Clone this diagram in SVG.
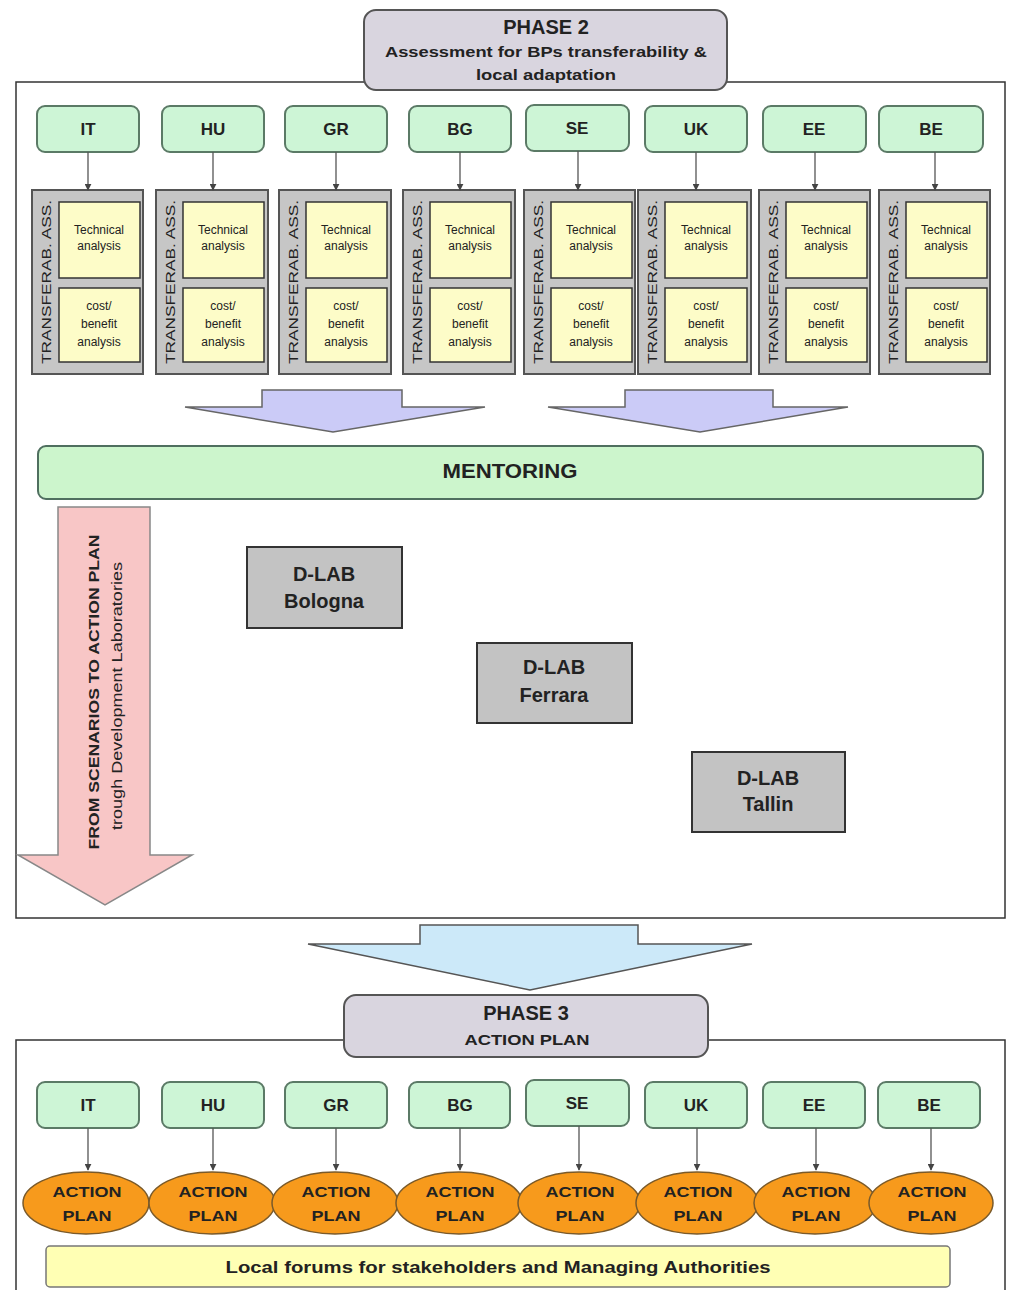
<svg xmlns="http://www.w3.org/2000/svg" width="1011" height="1290" viewBox="0 0 1011 1290">
<defs>
<marker id="ah" viewBox="0 0 10 10" refX="9" refY="5" markerWidth="7" markerHeight="7" orient="auto" markerUnits="userSpaceOnUse"><path d="M0,0 L10,5 L0,10 z" fill="#444"/></marker>
<style>
text{font-family:"Liberation Sans",Arial,sans-serif;fill:#222;text-anchor:middle}
.frame{fill:#fff;stroke:#333;stroke-width:1.5}
.phase{fill:#d9d5df;stroke:#555;stroke-width:2}
.cty{fill:#cdf5d6;stroke:#5b7a66;stroke-width:2}
.ctyt{font-size:17px;font-weight:bold}
.tr{fill:#c6c6c6;stroke:#555;stroke-width:2}
.yl{fill:#fdfcc8;stroke:#333;stroke-width:1.5}
.sm{font-size:12px}
.vt{font-size:13.5px}
.dlab{fill:#c3c3c3;stroke:#333;stroke-width:2}
.dlt{font-size:20px;font-weight:bold}
.ell{fill:#f79a1c;stroke:#7a5a2a;stroke-width:1.5}
.ap{font-size:15px;font-weight:bold}
.con{stroke:#555;stroke-width:1.3;fill:none;marker-end:url(#ah)}
</style>
</defs>

<rect class="frame" x="16" y="82" width="989" height="836"/>
<rect class="frame" x="16" y="1040" width="989" height="260"/>

<g id="phase2">
<rect class="phase" x="364" y="10" width="363" height="80" rx="12"/>
<text x="546" y="34" font-size="20" font-weight="bold">PHASE 2</text>
<text x="546" y="57" font-size="15" font-weight="bold" textLength="322" lengthAdjust="spacingAndGlyphs">Assessment for BPs transferability &amp;</text>
<text x="546" y="80" font-size="15" font-weight="bold" textLength="140" lengthAdjust="spacingAndGlyphs">local adaptation</text>
</g>

<g id="countries-top">
<g id="top-IT"><rect class="cty" x="37" y="106" width="102" height="46" rx="8"/><text class="ctyt" x="88" y="135">IT</text></g>
<g id="top-HU"><rect class="cty" x="162" y="106" width="102" height="46" rx="8"/><text class="ctyt" x="213" y="135">HU</text></g>
<g id="top-GR"><rect class="cty" x="285" y="106" width="102" height="46" rx="8"/><text class="ctyt" x="336" y="135">GR</text></g>
<g id="top-BG"><rect class="cty" x="409" y="106" width="102" height="46" rx="8"/><text class="ctyt" x="460" y="135">BG</text></g>
<g id="top-SE"><rect class="cty" x="526" y="105" width="103" height="46" rx="8"/><text class="ctyt" x="577" y="134">SE</text></g>
<g id="top-UK"><rect class="cty" x="645" y="106" width="102" height="46" rx="8"/><text class="ctyt" x="696" y="135">UK</text></g>
<g id="top-EE"><rect class="cty" x="763" y="106" width="103" height="46" rx="8"/><text class="ctyt" x="814" y="135">EE</text></g>
<g id="top-BE"><rect class="cty" x="879" y="106" width="104" height="46" rx="8"/><text class="ctyt" x="931" y="135">BE</text></g>
</g>

<g id="transfer">
<g id="tr-IT" transform="translate(32,190)">
<rect class="tr" width="111" height="184"/><rect class="yl" x="27" y="12" width="81" height="76"/><rect class="yl" x="27" y="98" width="81" height="74"/>
<text class="vt" transform="translate(19,92) rotate(-90)" textLength="164" lengthAdjust="spacingAndGlyphs">TRANSFERAB. ASS.</text>
<text class="sm" x="67" y="44">Technical</text><text class="sm" x="67" y="60">analysis</text>
<text class="sm" x="67" y="120">cost/</text><text class="sm" x="67" y="138">benefit</text><text class="sm" x="67" y="156">analysis</text>
</g>
<g id="tr-HU" transform="translate(156,190)">
<rect class="tr" width="112" height="184"/><rect class="yl" x="27" y="12" width="81" height="76"/><rect class="yl" x="27" y="98" width="81" height="74"/>
<text class="vt" transform="translate(19,92) rotate(-90)" textLength="164" lengthAdjust="spacingAndGlyphs">TRANSFERAB. ASS.</text>
<text class="sm" x="67" y="44">Technical</text><text class="sm" x="67" y="60">analysis</text>
<text class="sm" x="67" y="120">cost/</text><text class="sm" x="67" y="138">benefit</text><text class="sm" x="67" y="156">analysis</text>
</g>
<g id="tr-GR" transform="translate(279,190)">
<rect class="tr" width="112" height="184"/><rect class="yl" x="27" y="12" width="81" height="76"/><rect class="yl" x="27" y="98" width="81" height="74"/>
<text class="vt" transform="translate(19,92) rotate(-90)" textLength="164" lengthAdjust="spacingAndGlyphs">TRANSFERAB. ASS.</text>
<text class="sm" x="67" y="44">Technical</text><text class="sm" x="67" y="60">analysis</text>
<text class="sm" x="67" y="120">cost/</text><text class="sm" x="67" y="138">benefit</text><text class="sm" x="67" y="156">analysis</text>
</g>
<g id="tr-BG" transform="translate(403,190)">
<rect class="tr" width="112" height="184"/><rect class="yl" x="27" y="12" width="81" height="76"/><rect class="yl" x="27" y="98" width="81" height="74"/>
<text class="vt" transform="translate(19,92) rotate(-90)" textLength="164" lengthAdjust="spacingAndGlyphs">TRANSFERAB. ASS.</text>
<text class="sm" x="67" y="44">Technical</text><text class="sm" x="67" y="60">analysis</text>
<text class="sm" x="67" y="120">cost/</text><text class="sm" x="67" y="138">benefit</text><text class="sm" x="67" y="156">analysis</text>
</g>
<g id="tr-SE" transform="translate(524,190)">
<rect class="tr" width="111" height="184"/><rect class="yl" x="27" y="12" width="81" height="76"/><rect class="yl" x="27" y="98" width="81" height="74"/>
<text class="vt" transform="translate(19,92) rotate(-90)" textLength="164" lengthAdjust="spacingAndGlyphs">TRANSFERAB. ASS.</text>
<text class="sm" x="67" y="44">Technical</text><text class="sm" x="67" y="60">analysis</text>
<text class="sm" x="67" y="120">cost/</text><text class="sm" x="67" y="138">benefit</text><text class="sm" x="67" y="156">analysis</text>
</g>
<g id="tr-UK" transform="translate(638,190)">
<rect class="tr" width="113" height="184"/><rect class="yl" x="27" y="12" width="82" height="76"/><rect class="yl" x="27" y="98" width="82" height="74"/>
<text class="vt" transform="translate(19,92) rotate(-90)" textLength="164" lengthAdjust="spacingAndGlyphs">TRANSFERAB. ASS.</text>
<text class="sm" x="68" y="44">Technical</text><text class="sm" x="68" y="60">analysis</text>
<text class="sm" x="68" y="120">cost/</text><text class="sm" x="68" y="138">benefit</text><text class="sm" x="68" y="156">analysis</text>
</g>
<g id="tr-EE" transform="translate(759,190)">
<rect class="tr" width="111" height="184"/><rect class="yl" x="27" y="12" width="81" height="76"/><rect class="yl" x="27" y="98" width="81" height="74"/>
<text class="vt" transform="translate(19,92) rotate(-90)" textLength="164" lengthAdjust="spacingAndGlyphs">TRANSFERAB. ASS.</text>
<text class="sm" x="67" y="44">Technical</text><text class="sm" x="67" y="60">analysis</text>
<text class="sm" x="67" y="120">cost/</text><text class="sm" x="67" y="138">benefit</text><text class="sm" x="67" y="156">analysis</text>
</g>
<g id="tr-BE" transform="translate(879,190)">
<rect class="tr" width="111" height="184"/><rect class="yl" x="27" y="12" width="81" height="76"/><rect class="yl" x="27" y="98" width="81" height="74"/>
<text class="vt" transform="translate(19,92) rotate(-90)" textLength="164" lengthAdjust="spacingAndGlyphs">TRANSFERAB. ASS.</text>
<text class="sm" x="67" y="44">Technical</text><text class="sm" x="67" y="60">analysis</text>
<text class="sm" x="67" y="120">cost/</text><text class="sm" x="67" y="138">benefit</text><text class="sm" x="67" y="156">analysis</text>
</g>
</g>

<g id="block-arrows">
<polygon points="262,390 402,390 402,407 485,407 333,432 185,407 262,407" fill="#cbcbf7" stroke="#666" stroke-width="1.5"/>
<polygon points="625,390 773,390 773,407 848,407 700,432 548,407 625,407" fill="#cbcbf7" stroke="#666" stroke-width="1.5"/>
<polygon points="58,507 150,507 150,855 192,855 105,905 18,855 58,855" fill="#f8c6c6" stroke="#888" stroke-width="1.5"/>
<polygon points="420,925 638,925 638,944 752,944 530,990 308,944 420,944" fill="#cce9f9" stroke="#555" stroke-width="1.5"/>
</g>

<g id="mentoring">
<rect x="38" y="446" width="945" height="53" rx="8" fill="#ccf5cc" stroke="#4f6f5f" stroke-width="2"/>
<text x="510" y="478" font-size="20" font-weight="bold" textLength="135" lengthAdjust="spacingAndGlyphs">MENTORING</text>
</g>

<g id="scenarios-label">
<text transform="translate(99,692) rotate(-90)" font-size="15" font-weight="bold" textLength="315" lengthAdjust="spacingAndGlyphs">FROM SCENARIOS TO ACTION PLAN</text>
<text transform="translate(122,696) rotate(-90)" font-size="14" textLength="268" lengthAdjust="spacingAndGlyphs">trough Development Laboratories</text>
</g>

<g id="dlab-bologna"><rect class="dlab" x="247" y="547" width="155" height="81"/><text class="dlt" x="324" y="581">D-LAB</text><text class="dlt" x="324" y="608">Bologna</text></g>
<g id="dlab-ferrara"><rect class="dlab" x="477" y="643" width="155" height="80"/><text class="dlt" x="554" y="674">D-LAB</text><text class="dlt" x="554" y="702">Ferrara</text></g>
<g id="dlab-tallin"><rect class="dlab" x="692" y="752" width="153" height="80"/><text class="dlt" x="768" y="785">D-LAB</text><text class="dlt" x="768" y="811">Tallin</text></g>

<g id="phase3">
<rect class="phase" x="344" y="995" width="364" height="62" rx="12"/>
<text x="526" y="1020" font-size="20" font-weight="bold">PHASE 3</text>
<text x="527" y="1045" font-size="15" font-weight="bold" textLength="125" lengthAdjust="spacingAndGlyphs">ACTION PLAN</text>
</g>

<g id="countries-bottom">
<g id="bot-IT"><rect class="cty" x="37" y="1082" width="102" height="46" rx="8"/><text class="ctyt" x="88" y="1111">IT</text></g>
<g id="bot-HU"><rect class="cty" x="162" y="1082" width="102" height="46" rx="8"/><text class="ctyt" x="213" y="1111">HU</text></g>
<g id="bot-GR"><rect class="cty" x="285" y="1082" width="102" height="46" rx="8"/><text class="ctyt" x="336" y="1111">GR</text></g>
<g id="bot-BG"><rect class="cty" x="409" y="1082" width="101" height="46" rx="8"/><text class="ctyt" x="460" y="1111">BG</text></g>
<g id="bot-SE"><rect class="cty" x="526" y="1080" width="103" height="46" rx="8"/><text class="ctyt" x="577" y="1109">SE</text></g>
<g id="bot-UK"><rect class="cty" x="645" y="1082" width="102" height="46" rx="8"/><text class="ctyt" x="696" y="1111">UK</text></g>
<g id="bot-EE"><rect class="cty" x="763" y="1082" width="102" height="46" rx="8"/><text class="ctyt" x="814" y="1111">EE</text></g>
<g id="bot-BE"><rect class="cty" x="878" y="1082" width="102" height="46" rx="8"/><text class="ctyt" x="929" y="1111">BE</text></g>
</g>

<g id="action-plans">
<g id="ap-IT"><ellipse class="ell" cx="86" cy="1203" rx="63" ry="31"/><text class="ap" x="87" y="1197" textLength="69" lengthAdjust="spacingAndGlyphs">ACTION</text><text class="ap" x="87" y="1221" textLength="49" lengthAdjust="spacingAndGlyphs">PLAN</text></g>
<g id="ap-HU"><ellipse class="ell" cx="212" cy="1203" rx="63" ry="31"/><text class="ap" x="213" y="1197" textLength="69" lengthAdjust="spacingAndGlyphs">ACTION</text><text class="ap" x="213" y="1221" textLength="49" lengthAdjust="spacingAndGlyphs">PLAN</text></g>
<g id="ap-GR"><ellipse class="ell" cx="335" cy="1203" rx="63" ry="31"/><text class="ap" x="336" y="1197" textLength="69" lengthAdjust="spacingAndGlyphs">ACTION</text><text class="ap" x="336" y="1221" textLength="49" lengthAdjust="spacingAndGlyphs">PLAN</text></g>
<g id="ap-BG"><ellipse class="ell" cx="459" cy="1203" rx="63" ry="31"/><text class="ap" x="460" y="1197" textLength="69" lengthAdjust="spacingAndGlyphs">ACTION</text><text class="ap" x="460" y="1221" textLength="49" lengthAdjust="spacingAndGlyphs">PLAN</text></g>
<g id="ap-SE"><ellipse class="ell" cx="579" cy="1203" rx="61" ry="31"/><text class="ap" x="580" y="1197" textLength="69" lengthAdjust="spacingAndGlyphs">ACTION</text><text class="ap" x="580" y="1221" textLength="49" lengthAdjust="spacingAndGlyphs">PLAN</text></g>
<g id="ap-UK"><ellipse class="ell" cx="697" cy="1203" rx="61" ry="31"/><text class="ap" x="698" y="1197" textLength="69" lengthAdjust="spacingAndGlyphs">ACTION</text><text class="ap" x="698" y="1221" textLength="49" lengthAdjust="spacingAndGlyphs">PLAN</text></g>
<g id="ap-EE"><ellipse class="ell" cx="815" cy="1203" rx="61" ry="31"/><text class="ap" x="816" y="1197" textLength="69" lengthAdjust="spacingAndGlyphs">ACTION</text><text class="ap" x="816" y="1221" textLength="49" lengthAdjust="spacingAndGlyphs">PLAN</text></g>
<g id="ap-BE"><ellipse class="ell" cx="931" cy="1203" rx="62" ry="31"/><text class="ap" x="932" y="1197" textLength="69" lengthAdjust="spacingAndGlyphs">ACTION</text><text class="ap" x="932" y="1221" textLength="49" lengthAdjust="spacingAndGlyphs">PLAN</text></g>
</g>

<g id="forums">
<rect x="46" y="1246" width="904" height="41" rx="4" fill="#ffffb4" stroke="#777" stroke-width="1.5"/>
<text x="498" y="1273" font-size="17" font-weight="bold" textLength="545" lengthAdjust="spacingAndGlyphs">Local forums for stakeholders and Managing Authorities</text>
</g>

<g id="connectors">
<line class="con" x1="88" y1="152" x2="88" y2="190"/>
<line class="con" x1="213" y1="152" x2="213" y2="190"/>
<line class="con" x1="336" y1="152" x2="336" y2="190"/>
<line class="con" x1="460" y1="152" x2="460" y2="190"/>
<line class="con" x1="578" y1="151" x2="578" y2="190"/>
<line class="con" x1="696" y1="152" x2="696" y2="190"/>
<line class="con" x1="815" y1="152" x2="815" y2="190"/>
<line class="con" x1="935" y1="152" x2="935" y2="190"/>
<line class="con" x1="88" y1="1128" x2="88" y2="1170"/>
<line class="con" x1="213" y1="1128" x2="213" y2="1170"/>
<line class="con" x1="336" y1="1128" x2="336" y2="1170"/>
<line class="con" x1="460" y1="1128" x2="460" y2="1170"/>
<line class="con" x1="579" y1="1126" x2="579" y2="1170"/>
<line class="con" x1="697" y1="1128" x2="697" y2="1170"/>
<line class="con" x1="816" y1="1128" x2="816" y2="1170"/>
<line class="con" x1="931" y1="1128" x2="931" y2="1170"/>
</g>
</svg>
